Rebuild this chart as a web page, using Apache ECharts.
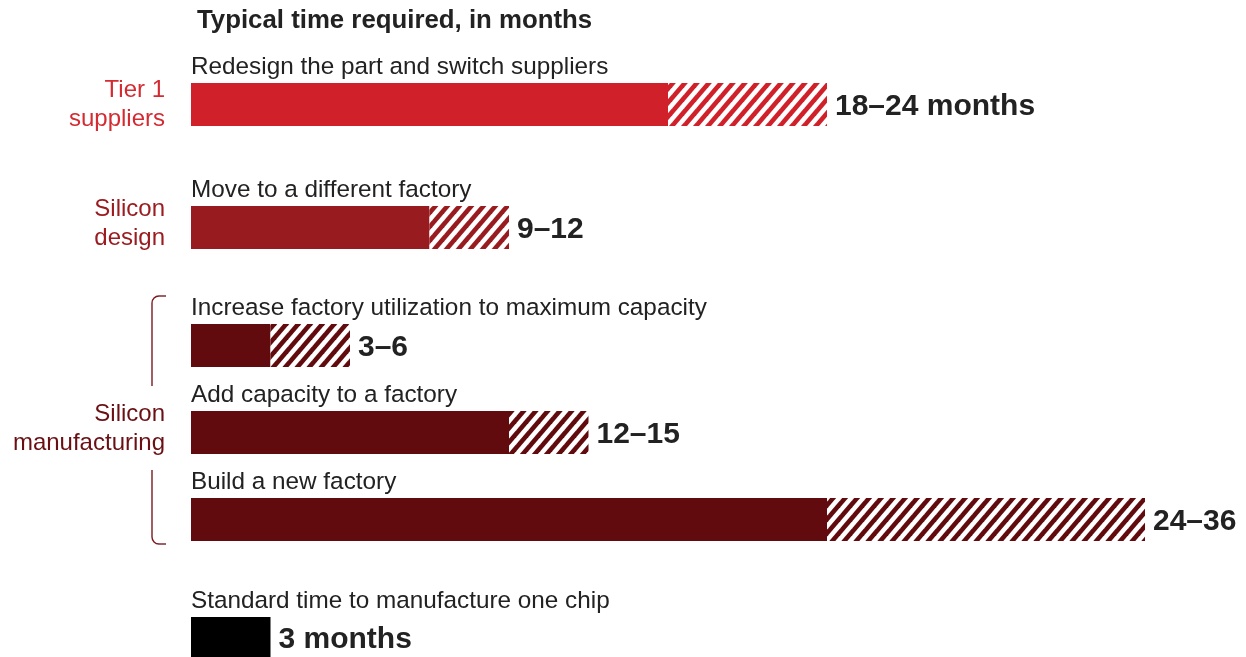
<!DOCTYPE html>
<html>
<head>
<meta charset="utf-8">
<script src="https://cdn.jsdelivr.net/npm/echarts@6/dist/echarts.min.js"></script>
<style>
  html, body { margin: 0; padding: 0; background: #ffffff; }
  #chart { width: 1246px; height: 657px; }
</style>
</head>
<body>
<div id="chart"></div>
<script>
// ---- data ----
const chartTitle = 'Typical time required, in months';
const tasks = [
  'Redesign the part and switch suppliers',
  'Move to a different factory',
  'Increase factory utilization to maximum capacity',
  'Add capacity to a factory',
  'Build a new factory',
  'Standard time to manufacture one chip'
];
const minMonths = [18, 9, 3, 12, 24, 3];
const maxMonths = [24, 12, 6, 15, 36, 3];
const valueLabels = ['18–24 months', '9–12', '3–6', '12–15', '24–36', '3 months'];
const groups = ['Tier 1\nsuppliers', 'Silicon\ndesign', 'Silicon\nmanufacturing'];
const taskGroup = [0, 1, 2, 2, 2, -1];
const axisMaxMonths = 36;

// ---- styles & layout ----
const FONT = "'Liberation Sans', Arial, Helvetica, sans-serif";
const groupColors = ['#d0202a', '#981b20', '#620b0e'];
const groupTextColors = ['#d42a31', '#9b1c20', '#6a1014'];
const baselineColor = '#000000';
const textColor = '#222222';
const plotLeft = 191;
const plotWidth = 954;
const barHeight = 43;
const barTops = [83, 206, 324, 411, 498, 617];
const groupLabelY = [105, 224, 429];

// diagonal stripe tile used for the upper part of each range
function stripePattern(color) {
  const w = 12, h = 14;
  const c = document.createElement('canvas');
  c.width = w; c.height = h;
  const ctx = c.getContext('2d');
  ctx.fillStyle = '#ffffff';
  ctx.fillRect(0, 0, w, h);
  ctx.strokeStyle = color;
  ctx.lineWidth = 4.6;
  for (let k = -1; k <= 1; k++) {
    const x0 = k * w;
    ctx.beginPath();
    ctx.moveTo(x0 - w, 2 * h);
    ctx.lineTo(x0 + 2 * w, -h);
    ctx.stroke();
  }
  return { image: c, repeat: 'repeat' };
}

function rowColor(i) {
  return taskGroup[i] >= 0 ? groupColors[taskGroup[i]] : baselineColor;
}

const grids = [], xAxes = [], yAxes = [], series = [], graphics = [];
const valueLabelStyle = {
  show: true, position: 'right', distance: 8, offset: [0, 2.5],
  color: textColor, fontFamily: FONT, fontWeight: 'bold', fontSize: 30
};

tasks.forEach((task, i) => {
  grids.push({ left: plotLeft, width: plotWidth, top: barTops[i], height: barHeight, containLabel: false });
  xAxes.push({ type: 'value', gridIndex: i, min: 0, max: axisMaxMonths, show: false });
  yAxes.push({ type: 'category', gridIndex: i, data: [task], show: false });
  const single = maxMonths[i] === minMonths[i];
  series.push({
    type: 'bar', xAxisIndex: i, yAxisIndex: i, stack: 'r' + i, barWidth: barHeight,
    silent: true, animation: false,
    itemStyle: { color: rowColor(i) },
    label: Object.assign({}, valueLabelStyle, { show: single, formatter: () => valueLabels[i] }),
    data: [minMonths[i]]
  });
  if (!single) {
    series.push({
      type: 'bar', xAxisIndex: i, yAxisIndex: i, stack: 'r' + i, barWidth: barHeight,
      silent: true, animation: false,
      itemStyle: { color: stripePattern(rowColor(i)) },
      label: Object.assign({}, valueLabelStyle, { formatter: () => valueLabels[i] }),
      data: [maxMonths[i] - minMonths[i]]
    });
  }
  // task caption above each bar
  graphics.push({
    type: 'text', x: plotLeft, y: barTops[i] - 16, silent: true,
    style: { text: task, fill: textColor, font: '24.3px ' + FONT, textAlign: 'left', textVerticalAlign: 'middle' }
  });
});

// chart heading
graphics.push({
  type: 'text', x: 197, y: 21, silent: true,
  style: { text: chartTitle, fill: textColor, font: 'bold 25.8px ' + FONT, textAlign: 'left', textVerticalAlign: 'middle' }
});

// group names on the left
groups.forEach((g, gi) => {
  graphics.push({
    type: 'text', x: 165, y: groupLabelY[gi], silent: true,
    style: { text: g, fill: groupTextColors[gi], font: '24px ' + FONT, lineHeight: 29, textAlign: 'right', textVerticalAlign: 'middle' }
  });
});

// bracket spanning the manufacturing rows
const bracketStyle = { stroke: '#7a1a1e', lineWidth: 1.4, fill: null };
const r = 7;
graphics.push(
  { type: 'line', silent: true, shape: { x1: 159, y1: 296, x2: 166, y2: 296 }, style: bracketStyle },
  { type: 'arc', silent: true, shape: { cx: 159, cy: 296 + r, r: r, startAngle: Math.PI, endAngle: Math.PI * 1.5, clockwise: true }, style: bracketStyle },
  { type: 'line', silent: true, shape: { x1: 152, y1: 303, x2: 152, y2: 386 }, style: bracketStyle },
  { type: 'line', silent: true, shape: { x1: 152, y1: 470, x2: 152, y2: 537 }, style: bracketStyle },
  { type: 'arc', silent: true, shape: { cx: 159, cy: 544 - r, r: r, startAngle: Math.PI * 0.5, endAngle: Math.PI, clockwise: true }, style: bracketStyle },
  { type: 'line', silent: true, shape: { x1: 159, y1: 544, x2: 166, y2: 544 }, style: bracketStyle }
);

const chart = echarts.init(document.getElementById('chart'), null, { renderer: 'canvas' });
chart.setOption({
  animation: false,
  backgroundColor: '#ffffff',
  grid: grids,
  xAxis: xAxes,
  yAxis: yAxes,
  series: series,
  graphic: graphics
});
</script>
</body>
</html>
